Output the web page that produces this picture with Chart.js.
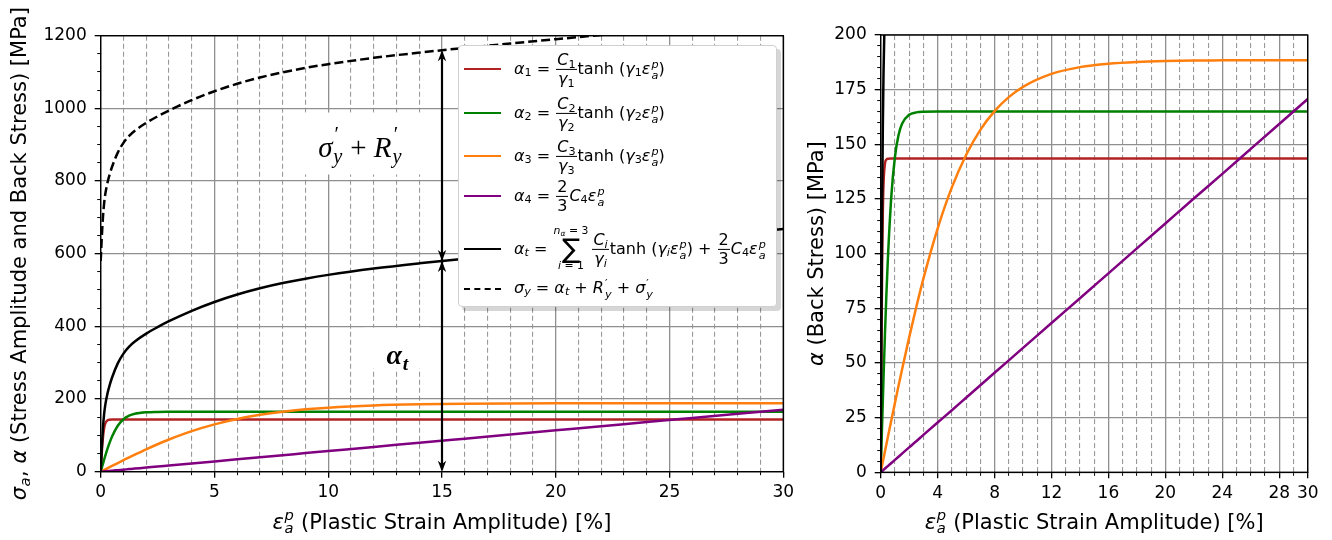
<!DOCTYPE html>
<html>
<head>
<meta charset="UTF-8" />
<title>Back stress components</title>
<script src="https://cdn.jsdelivr.net/npm/chart.js"></script>
<style>
  body { margin: 0; background: #fff; font-family: 'DejaVu Sans', sans-serif; }
  #wrap { position: relative; width: 1332px; height: 540px; overflow: hidden; }
  #left { position: absolute; left: 0; top: 0; }
  #right { position: absolute; left: 800px; top: 0; }
  .legend {
    position: absolute; left: 458px; top: 45px; width: 317px; height: 260px;
    background: #fff; border: 1px solid #d0d0d0; border-radius: 4px;
    box-shadow: 4px 4px 0 rgba(0,0,0,0.16); font-size: 16px; color: #000;
  }
  .row { position: absolute; left: 0; height: 0; }
  .handle { position: absolute; left: 5px; top: -1px; width: 37px; height: 0; }
  .txt { position: absolute; left: 55px; top: 0; transform: translateY(-50%); white-space: nowrap; line-height: 1.2; }
  i { font-style: italic; }
  sub { font-size: 0.7em; vertical-align: -0.25em; line-height: 0; }
  .ss { display: inline-flex; flex-direction: column; font-size: 0.7em; line-height: 0.95; vertical-align: 0.5em; margin-left: 1px; }
  .frac { display: inline-flex; flex-direction: column; align-items: center; vertical-align: middle; line-height: 1.1; margin: 0 1px; }
  .frac > span { text-align: center; padding: 0 1px; }
  .frac > span:first-child { border-bottom: 1.2px solid #000; }
  .sum { display: inline-flex; flex-direction: column; align-items: center; vertical-align: middle; line-height: 1; margin: 0 3px 0 1px; }
  .sum .lim { font-size: 0.68em; }
  .sum .big { font-size: 1.7em; line-height: 0.9; }
</style>
</head>
<body>
<div id="wrap">
  <canvas id="left" width="800" height="540"></canvas>
  <canvas id="right" width="532" height="540"></canvas>

  <div class="legend">
    <div class="row" style="top:23px">
      <span class="handle" style="border-top:2.5px solid #b22222"></span>
      <span class="txt"><i>α</i><sub>1</sub> = <span class="frac"><span><i>C</i><sub>1</sub></span><span><i>γ</i><sub>1</sub></span></span>tanh (<i>γ</i><sub>1</sub><i>ε</i><span class="ss"><i>p</i><i>a</i></span>)</span>
    </div>
    <div class="row" style="top:67px">
      <span class="handle" style="border-top:2.5px solid #008000"></span>
      <span class="txt"><i>α</i><sub>2</sub> = <span class="frac"><span><i>C</i><sub>2</sub></span><span><i>γ</i><sub>2</sub></span></span>tanh (<i>γ</i><sub>2</sub><i>ε</i><span class="ss"><i>p</i><i>a</i></span>)</span>
    </div>
    <div class="row" style="top:110px">
      <span class="handle" style="border-top:2.5px solid #ff7f0e"></span>
      <span class="txt"><i>α</i><sub>3</sub> = <span class="frac"><span><i>C</i><sub>3</sub></span><span><i>γ</i><sub>3</sub></span></span>tanh (<i>γ</i><sub>3</sub><i>ε</i><span class="ss"><i>p</i><i>a</i></span>)</span>
    </div>
    <div class="row" style="top:150px">
      <span class="handle" style="border-top:2.5px solid #800080"></span>
      <span class="txt"><i>α</i><sub>4</sub> = <span class="frac"><span>2</span><span>3</span></span><i>C</i><sub>4</sub><i>ε</i><span class="ss"><i>p</i><i>a</i></span></span>
    </div>
    <div class="row" style="top:203px">
      <span class="handle" style="border-top:2.5px solid #000"></span>
      <span class="txt"><i>α</i><sub><i>t</i></sub> = <span class="sum"><span class="lim"><i>n</i><sub><i>α</i></sub> = 3</span><span class="big">∑</span><span class="lim"><i>i</i> = 1</span></span><span class="frac"><span><i>C</i><sub><i>i</i></sub></span><span><i>γ</i><sub><i>i</i></sub></span></span>tanh (<i>γ</i><sub><i>i</i></sub><i>ε</i><span class="ss"><i>p</i><i>a</i></span>) + <span class="frac"><span>2</span><span>3</span></span><i>C</i><sub>4</sub><i>ε</i><span class="ss"><i>p</i><i>a</i></span></span>
    </div>
    <div class="row" style="top:243px">
      <span class="handle" style="border-top:2.5px dashed #000"></span>
      <span class="txt"><i>σ</i><sub><i>y</i></sub> = <i>α</i><sub><i>t</i></sub> + <i>R</i><span class="ss"><span>′</span><i>y</i></span> + <i>σ</i><span class="ss"><span>′</span><i>y</i></span></span>
    </div>
  </div>
</div>

<script>
  // plastic strain amplitude [%] where the curves were read
  const strain = [0, 0.05, 0.1, 0.15, 0.2, 0.3, 0.4, 0.5, 0.75, 1, 1.25, 1.5, 2, 2.5, 3, 4, 5, 6, 7, 8, 9, 10, 12, 14, 16, 18, 20, 22, 24, 26, 28, 30];
  const alpha1 = [0, 54.5, 95.3, 119.6, 132.3, 141.2, 143.0, 143.4, 143.5, 143.5, 143.5, 143.5, 143.5, 143.5, 143.5, 143.5, 143.5, 143.5, 143.5, 143.5, 143.5, 143.5, 143.5, 143.5, 143.5, 143.5, 143.5, 143.5, 143.5, 143.5, 143.5, 143.5];
  const alpha2 = [0, 11.1, 22.1, 33.0, 43.5, 63.4, 81.3, 97.0, 126.5, 144.2, 154.1, 159.4, 163.5, 164.6, 164.9, 165, 165, 165, 165, 165, 165, 165, 165, 165, 165, 165, 165, 165, 165, 165, 165, 165];
  const alpha3 = [0, 1.6, 3.2, 4.8, 6.4, 9.6, 12.8, 16.0, 23.9, 31.7, 39.5, 47.0, 61.7, 75.6, 88.6, 111.5, 130.3, 145.1, 156.6, 165.2, 171.6, 176.3, 182.2, 185.3, 186.9, 187.7, 188.1, 188.3, 188.4, 188.5, 188.5, 188.5];
  const alpha4 = [0, 0.28, 0.57, 0.85, 1.14, 1.71, 2.28, 2.85, 4.27, 5.69, 7.11, 8.53, 11.4, 14.2, 17.1, 22.8, 28.4, 34.1, 39.8, 45.5, 51.2, 56.9, 68.3, 79.6, 91.0, 102.4, 113.8, 125.2, 136.5, 147.9, 159.3, 170.7];
  const alphaT = [0, 67.5, 121.2, 158.3, 183.3, 215.9, 239.4, 259.3, 298.2, 325.1, 344.2, 358.4, 380.1, 397.9, 414.1, 442.8, 467.2, 487.7, 504.9, 519.2, 531.3, 541.7, 559.0, 573.4, 586.4, 598.6, 610.4, 622.0, 633.4, 644.9, 656.3, 667.7];
  const sigmaY = [580, 647.5, 701.2, 738.3, 763.3, 795.9, 819.4, 839.3, 878.2, 905.1, 924.2, 938.4, 960.1, 977.9, 994.1, 1022.8, 1047.2, 1067.7, 1084.9, 1099.2, 1111.3, 1121.7, 1139.0, 1153.4, 1166.4, 1178.6, 1190.4, 1202.0, 1213.4, 1224.9, 1236.3, 1247.7];

  // arrow at 15 % strain: alpha_t part and sigma'_y + R'_y part
  const arrowStrain = 15;
  const arrowLower = [0, 580];
  const arrowUpper = [580, 1160];

  const leftXTicks = [0, 5, 10, 15, 20, 25, 30];
  const leftYTicks = [0, 200, 400, 600, 800, 1000, 1200];
  const rightXTicks = [0, 4, 8, 12, 16, 20, 24, 28, 30];
  const rightYTicks = [0, 25, 50, 75, 100, 125, 150, 175, 200];
  const strainMinor = Array.from({length: 31}, (_, i) => i);
  const leftYMinor = Array.from({length: 25}, (_, i) => i * 50);
  const rightYMinor = Array.from({length: 41}, (_, i) => i * 5);

  Chart.defaults.font.family = "'DejaVu Sans', sans-serif";
  Chart.defaults.color = '#000';

  const pts = ys => strain.map((x, i) => ({x: x, y: ys[i]}));
  const line = (label, ys, color, dash) => ({
    label: label, data: pts(ys), borderColor: color, borderWidth: 2.5,
    borderDash: dash || [], pointRadius: 0, showLine: true, fill: false,
    cubicInterpolationMode: 'monotone'
  });

  const setTicks = list => scale => { scale.ticks = list.map(v => ({value: v})); };
  const noSize = scale => { scale.width = 0; scale.height = 0; };

  // major axes keep a fixed box so that their labels are not clipped
  function majorAxis(pos, min, max, ticks, size) {
    return {
      type: 'linear', position: pos, min: min, max: max,
      afterBuildTicks: setTicks(ticks),
      afterFit: scale => { if (pos === 'left') scale.width = size; else scale.height = size; },
      ticks: {font: {size: 17}, color: '#000', padding: pos === 'left' ? 8 : 5, autoSkip: false, maxRotation: 0,
              callback: v => String(v)},
      grid: {color: '#8f8f8f', lineWidth: 1.3, tickLength: 6, tickColor: '#000', tickWidth: 1.3},
      border: {display: false}
    };
  }
  function minorAxis(pos, min, max, ticks, every, onChart) {
    return {
      type: 'linear', position: pos, min: min, max: max,
      afterBuildTicks: setTicks(ticks), afterFit: noSize,
      ticks: {display: false},
      grid: {
        drawOnChartArea: onChart,
        color: c => (c.tick && c.tick.value % every === 0) ? 'rgba(0,0,0,0)' : '#9a9a9a',
        lineWidth: 1.1, tickLength: 3.5, tickColor: '#000', tickWidth: 1
      },
      border: {display: false, dash: [5, 3]}
    };
  }

  // rich text (sub/superscripts) for axis titles and labels
  function fontStr(it, bold, size, fam) {
    return (it ? 'italic ' : '') + (bold ? 'bold ' : '') + size + 'px ' + fam;
  }
  function drawRuns(ctx, runs, cx, cy, size, fam) {
    let total = 0;
    runs.forEach(r => {
      ctx.font = fontStr(r.it, r.bold, size, fam);
      r.w = ctx.measureText(r.t).width;
      r.sw = 0;
      ctx.font = fontStr(true, r.bold, size * 0.7, fam);
      if (r.sup) r.sw = Math.max(r.sw, ctx.measureText(r.sup).width);
      if (r.sub) r.sw = Math.max(r.sw, ctx.measureText(r.sub).width);
      total += r.w + (r.sw ? r.sw + size * 0.05 : 0);
    });
    let x = cx - total / 2;
    const base = cy + size * 0.36;
    ctx.textAlign = 'left';
    ctx.textBaseline = 'alphabetic';
    ctx.fillStyle = '#000';
    runs.forEach(r => {
      ctx.font = fontStr(r.it, r.bold, size, fam);
      ctx.fillText(r.t, x, base);
      x += r.w;
      if (r.sw) {
        x += size * 0.03;
        ctx.font = fontStr(true, r.bold, size * 0.7, fam);
        if (r.sup) ctx.fillText(r.sup, x, base - size * (r.supUp || 0.42));
        if (r.sub) ctx.fillText(r.sub, x, base + size * 0.22);
        x += r.sw + size * 0.02;
      }
    });
  }

  const sans = "'DejaVu Sans'";
  const serif = "'Liberation Serif'";
  const xTitle = [{t: 'ε', it: true, sup: 'p', sub: 'a'}, {t: ' (Plastic Strain Amplitude) [%]'}];

  function titlesPlugin(yRuns, yTitleX) {
    return {
      id: 'titles',
      afterDraw(chart) {
        const {ctx, chartArea: a} = chart;
        ctx.save();
        drawRuns(ctx, xTitle, (a.left + a.right) / 2, 521, 21, sans);
        ctx.translate(yTitleX, (a.top + a.bottom) / 2);
        ctx.rotate(-Math.PI / 2);
        drawRuns(ctx, yRuns, 0, 0, 21, sans);
        ctx.restore();
      }
    };
  }

  const framePlugin = {
    id: 'frame',
    afterDatasetsDraw(chart) {
      const {ctx, chartArea: a} = chart;
      ctx.save();
      ctx.strokeStyle = '#000';
      ctx.lineWidth = 1.4;
      ctx.strokeRect(a.left, a.top, a.right - a.left, a.bottom - a.top);
      ctx.restore();
    }
  };

  function arrow(ctx, x, yFrom, yTo) {
    const hl = 11, hw = 4.2;
    const dir = yTo > yFrom ? 1 : -1;
    ctx.beginPath();
    ctx.moveTo(x, yFrom - dir * 2);
    ctx.lineTo(x, yTo - dir * 2);
    ctx.stroke();
    [[yFrom, -dir], [yTo, dir]].forEach(([tip, d]) => {
      ctx.beginPath();
      ctx.moveTo(x, tip);
      ctx.lineTo(x - hw, tip - d * hl);
      ctx.lineTo(x, tip - d * hl * 0.7);
      ctx.lineTo(x + hw, tip - d * hl);
      ctx.closePath();
      ctx.fill();
    });
  }

  const annotPlugin = {
    id: 'annot',
    beforeDatasetsDraw(chart) {
      const {ctx, scales: {x, y}} = chart;
      ctx.save();
      ctx.fillStyle = '#fff';
      // label backgrounds hide the grid
      const p1 = {x: x.getPixelForValue(11.4), y: y.getPixelForValue(895)};
      ctx.fillRect(p1.x - 58, p1.y - 34, 120, 62);
      const p2 = {x: x.getPixelForValue(13.05), y: y.getPixelForValue(325)};
      ctx.fillRect(p2.x - 33, p2.y - 26, 66, 41);
      drawRuns(ctx, [{t: 'σ', it: true, sup: '′', sub: 'y', supUp: 0.55}, {t: ' + '}, {t: 'R', it: true, sup: '′', sub: 'y', supUp: 0.55}], p1.x, p1.y, 29, serif);
      drawRuns(ctx, [{t: 'α', it: true, bold: true, sub: 't'}], p2.x, p2.y, 28, serif);
      ctx.restore();
    },
    afterDatasetsDraw(chart) {
      const {ctx, scales: {x, y}} = chart;
      const px = x.getPixelForValue(arrowStrain);
      ctx.save();
      ctx.strokeStyle = '#000';
      ctx.fillStyle = '#000';
      ctx.lineWidth = 2.2;
      arrow(ctx, px, y.getPixelForValue(arrowLower[1]), y.getPixelForValue(arrowLower[0]));
      arrow(ctx, px, y.getPixelForValue(arrowUpper[0]), y.getPixelForValue(arrowUpper[1]));
      ctx.restore();
    }
  };

  const baseOptions = padding => ({
    responsive: false, animation: false, events: [],
    layout: {padding: padding},
    plugins: {legend: {display: false}, tooltip: {enabled: false}}
  });

  new Chart(document.getElementById('left'), {
    type: 'scatter',
    data: {
      datasets: [
        line('sigma_y', sigmaY, '#000', [9, 4]),
        line('alpha_t', alphaT, '#000'),
        line('alpha_4', alpha4, '#800080'),
        line('alpha_3', alpha3, '#ff7f0e'),
        line('alpha_2', alpha2, '#008000'),
        line('alpha_1', alpha1, '#b22222')
      ]
    },
    options: Object.assign(baseOptions({left: 5.7, top: 35.7, right: 16.7, bottom: 8.3}), {
      scales: {
        xMinor: minorAxis('bottom', 0, 30, strainMinor, 5, true),
        x: majorAxis('bottom', 0, 30, leftXTicks, 60),
        yMinor: minorAxis('left', 0, 1200, leftYMinor, 200, false),
        y: majorAxis('left', 0, 1200, leftYTicks, 95)
      }
    }),
    plugins: [annotPlugin, framePlugin,
      titlesPlugin([{t: 'σ', it: true, sub: 'a'}, {t: ', '}, {t: 'α', it: true}, {t: ' (Stress Amplitude and Back Stress) [MPa]'}], 18)]
  });

  new Chart(document.getElementById('right'), {
    type: 'scatter',
    data: {
      datasets: [
        line('alpha_t', alphaT, '#000'),
        line('alpha_4', alpha4, '#800080'),
        line('alpha_3', alpha3, '#ff7f0e'),
        line('alpha_2', alpha2, '#008000'),
        line('alpha_1', alpha1, '#b22222')
      ]
    },
    options: Object.assign(baseOptions({left: 5.7, top: 35, right: 24.3, bottom: 7.7}), {
      scales: {
        xMinor: minorAxis('bottom', 0, 30, strainMinor, 4, true),
        x: majorAxis('bottom', 0, 30, rightXTicks, 60),
        yMinor: minorAxis('left', 0, 200, rightYMinor, 25, false),
        y: majorAxis('left', 0, 200, rightYTicks, 75)
      }
    }),
    plugins: [framePlugin, titlesPlugin([{t: 'α', it: true}, {t: ' (Back Stress) [MPa]'}], 15)]
  });
</script>
</body>
</html>
